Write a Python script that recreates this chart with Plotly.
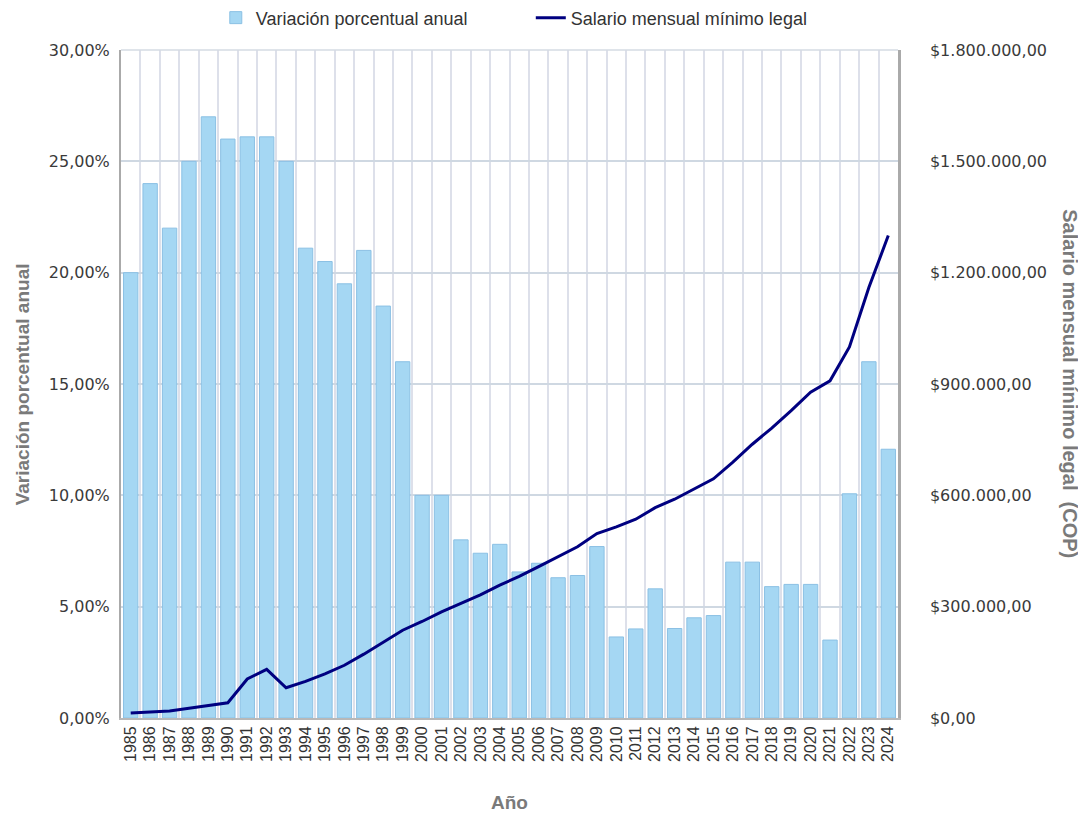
import plotly.graph_objects as go

years = [str(y) for y in range(1985, 2025)]
variacion_pct = [20.0, 24.0, 22.0, 25.0, 27.0, 26.0, 26.1, 26.1, 25.0, 21.1,
                 20.5, 19.5, 21.0, 18.5, 16.0, 10.0, 10.0, 8.0, 7.4, 7.8,
                 6.56, 6.95, 6.3, 6.4, 7.7, 3.64, 4.0, 5.8, 4.02, 4.5,
                 4.6, 7.0, 7.0, 5.9, 6.0, 6.0, 3.5, 10.07, 16.0, 12.07]
salario = [13558, 16811, 19000, 26000, 32560, 41025, 105000, 131000, 81510, 98700,
           118934, 142125, 172005, 203826, 236460, 260100, 286000, 309000, 332000, 358000,
           381500, 408000, 433700, 461500, 496900, 515000, 535600, 566700, 589500, 616000,
           644350, 689455, 737717, 781242, 828116, 877803, 908526, 1000000, 1160000, 1300000]

pct_ticks = [0, 5, 10, 15, 20, 25, 30]
pct_labels = ["0,00%", "5,00%", "10,00%", "15,00%", "20,00%", "25,00%", "30,00%"]
cop_ticks = [0, 300000, 600000, 900000, 1200000, 1500000, 1800000]
cop_labels = ["$0,00", "$300.000,00", "$600.000,00", "$900.000,00",
              "$1.200.000,00", "$1.500.000,00", "$1.800.000,00"]

bar_name = "Variación porcentual anual"
line_name = "Salario mensual mínimo legal"
y_title = "Variación porcentual anual"
y2_title = "Salario mensual mínimo legal  (COP)"
x_title = "Año"

fig = go.Figure()
fig.add_trace(go.Bar(
    x=years, y=variacion_pct, name=bar_name,
    marker=dict(color="#a5d7f3", line=dict(color="#8bc0e4", width=1)),
    yaxis="y",
))
fig.add_trace(go.Scatter(
    x=years, y=salario, name=line_name, mode="lines",
    line=dict(color="#000080", width=3),
    yaxis="y2",
))

tick_font = dict(family="DejaVu Sans", size=16, color="#3a3a3a")
title_font = dict(family="Liberation Sans", size=19, color="#7a7a7a", weight="bold")
fig.update_layout(
    width=1078, height=817,
    margin=dict(l=113, r=188, t=42, b=107, autoexpand=False),
    paper_bgcolor="white", plot_bgcolor="white",
    bargap=0.26,
    font=dict(family="Liberation Sans", size=16, color="#333"),
    showlegend=True,
    legend=dict(orientation="h", x=0.122, xanchor="left", y=1.048, yanchor="middle",
                entrywidth=270, entrywidthmode="pixels",
                font=dict(family="Liberation Sans", size=18, color="#333")),
    xaxis=dict(
        type="category", tickson="boundaries", tickangle=-90,
        showgrid=True, gridcolor="#dde0ea", gridwidth=1.5,
        showline=True, linecolor="#b8b8b8", linewidth=2,
        ticks="", tickfont=dict(family="Liberation Sans", size=16, color="#333"),
        automargin=False,
    ),
    yaxis=dict(
        range=[0, 30], tickvals=pct_ticks, ticktext=pct_labels,
        showgrid=True, gridcolor="#cfd8e2", gridwidth=1.5,
        showline=True, linecolor="#aaaaaa", linewidth=2,
        tickfont=tick_font, zeroline=False, ticks="", ticklabelstandoff=6,
        automargin=False,
    ),
    yaxis2=dict(
        range=[0, 1800000], tickvals=cop_ticks, ticktext=cop_labels,
        overlaying="y", side="right",
        showgrid=False, showline=True, linecolor="#aaaaaa", linewidth=2.5,
        tickfont=tick_font, zeroline=False, ticks="", ticklabelstandoff=26,
        automargin=False,
    ),
    annotations=[
        dict(text=y_title, xref="paper", yref="paper", x=-0.127, y=0.5, textangle=-90,
             showarrow=False, xanchor="center", yanchor="middle", font=title_font),
        dict(text=y2_title, xref="paper", yref="paper", x=1.221, y=0.5, textangle=90,
             showarrow=False, xanchor="center", yanchor="middle",
             font=dict(family="Liberation Sans", size=20, color="#7a7a7a", weight="bold")),
        dict(text=x_title, xref="paper", yref="paper", x=0.5, y=-0.127, showarrow=False,
             xanchor="center", yanchor="middle", font=title_font),
    ],
    shapes=[dict(type="line", xref="paper", yref="paper", x0=0, x1=1, y0=1, y1=1,
                 line=dict(color="#d5dbe3", width=1.5))],
)

fig.write_html("out.html")
